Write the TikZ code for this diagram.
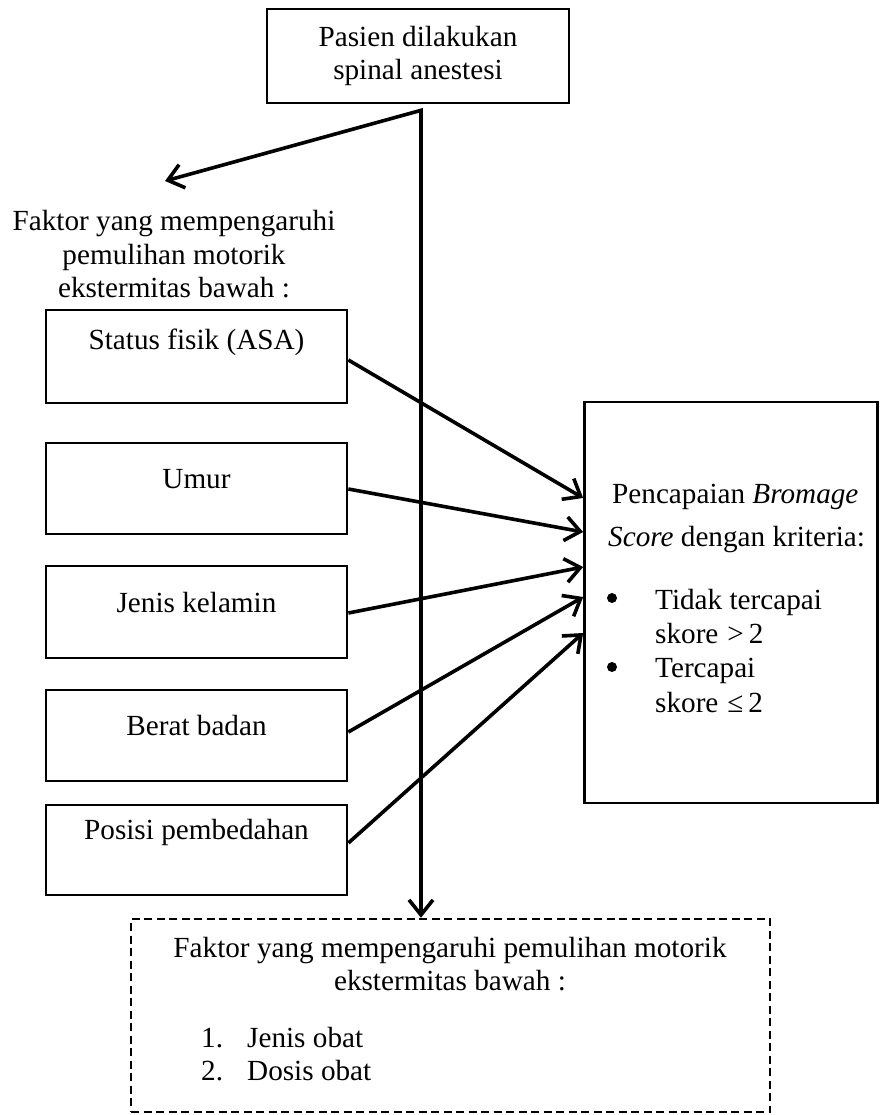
\documentclass[tikz,border=0pt]{standalone}
\usepackage{fontspec}
\setmainfont{Liberation Serif}
\usetikzlibrary{arrows.meta,calc}
\begin{document}
\begin{tikzpicture}[x=1pt,y=-1pt,
  font=\fontsize{29.2pt}{33.5pt}\selectfont,
  box/.style={draw, line width=2.7pt, inner sep=0pt},
  lbox/.style={box, minimum width=301pt, text height=20pt, text depth=20pt},
  dbox/.style={draw, line width=2.5pt, dash pattern=on 8pt off 4.5pt, inner sep=0pt},
  bul/.style={circle, fill, inner sep=0pt, minimum size=10pt},
  arr/.style={line width=3.6pt, -{Straight Barb[length=15pt,width=24pt]}},
  txt/.style={inner sep=0pt}]
\useasboundingbox (0,0) rectangle (879,1115);

% top box
\node[box, minimum width=302pt, minimum height=94pt, align=center] (top) at (418,56) {Pasien dilakukan\\spinal anestesi};

% left heading
\node[txt, align=center] (fac) at (174,254.5) {Faktor yang mempengaruhi\\pemulihan motorik\\ekstermitas bawah :};

% left boxes
\node[lbox, minimum height=93pt, text depth=35pt] (s1) at (196.5,356.5) {Status fisik (ASA)};
\node[lbox, minimum height=91pt] (s2) at (196.5,488.5) {Umur};
\node[lbox, minimum height=92pt] (s3) at (196.5,612) {Jenis kelamin};
\node[lbox, minimum height=91pt] (s4) at (196.5,735.5) {Berat badan};
\node[lbox, minimum height=90pt, text depth=42pt] (s5) at (196.5,850) {Posisi pembedahan};

% right box
\node[box, minimum width=293pt, minimum height=401pt] (res) at (731,602.5) {};
\node[txt, anchor=base west] (r1) at (612,503) {Pencapaian \textit{Bromage}};
\node[txt, anchor=base west] (r2) at (608,546) {\textit{Score} dengan kriteria:};
\node[bul] (b1) at (612,598) {};
\node[txt, anchor=base west] (r3) at (655,609) {Tidak tercapai};
\node[txt, anchor=base west] (r4) at (655,643) {skore\hspace{9pt}>\hspace{5pt}2};
\node[bul] (b2) at (612,667) {};
\node[txt, anchor=base west] (r5) at (655,677) {Tercapai};
\node[txt, anchor=base west] (r6) at (655,712) {skore\hspace{9pt}≤\hspace{5pt}2};

% dashed box
\node[dbox, minimum width=639pt, minimum height=193pt] (dash) at (450.5,1015.5) {};
\node[txt, align=center] (dh) at (450,964) {Faktor yang mempengaruhi pemulihan motorik\\ekstermitas bawah :};
\node[txt, anchor=base west] (n1) at (201,1047) {1.};
\node[txt, anchor=base west] (d1) at (247,1047) {Jenis obat};
\node[txt, anchor=base west] (n2) at (201,1080) {2.};
\node[txt, anchor=base west] (d2) at (247,1080) {Dosis obat};

% connectors
\coordinate (split) at ([xshift=3pt,yshift=-6pt]top.south);
\coordinate (facTip) at (165,181);
\draw[line width=3.6pt, {Straight Barb[length=15pt,width=24pt]}-{Straight Barb[length=15pt,width=24pt]}]
  (facTip) -- (split) -- (split |- dash.north);

\draw[arr] ([yshift=-3.5pt]s1.east) -- ([yshift=104.5pt]res.west);
\draw[arr] ([yshift=-0.5pt]s2.east) -- ([yshift=70.5pt]res.west);
\draw[arr] ([yshift=-1pt]s3.east) -- ([yshift=35.5pt]res.west);
\draw[arr] ([yshift=3.5pt]s4.east) -- ([yshift=5.5pt]res.west);
\draw[arr] ([yshift=7pt]s5.east) -- ([yshift=-30.5pt]res.west);
\end{tikzpicture}
\end{document}
